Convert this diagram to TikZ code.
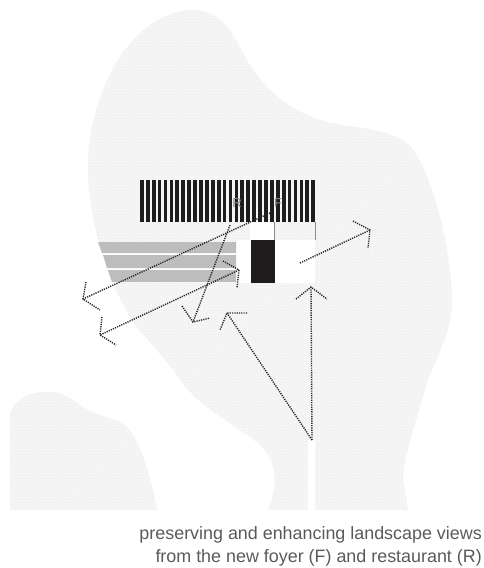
\documentclass[tikz,border=0pt]{standalone}
\usepackage{fontspec}
\setmainfont{Liberation Sans}
\usepackage{tikz}
\usetikzlibrary{patterns}
\definecolor{Site}{HTML}{F2F2F2}
\definecolor{Tiers}{HTML}{BDBDBD}
\definecolor{Ink}{HTML}{1E1C1D}
\definecolor{Caption}{HTML}{5A5A5A}

\begin{document}
\begin{tikzpicture}[
  x=1pt,y=-1pt,
  sitearea/.style={fill=Site,draw=none,postaction={pattern=crosshatch dots,pattern color=white}},
  tierbar/.style={fill=Tiers,draw=none},
  viewline/.style={draw=black!85,line width=1.4pt,dash pattern=on 1.2pt off 1.1pt},
  roomlabel/.style={font=\fontsize{13}{13}\selectfont,text=black!45,inner sep=0pt},
  captionline/.style={font=\fontsize{17.9}{20}\selectfont,text=Caption,anchor=east,inner sep=0pt}
]
\useasboundingbox (0,0) rectangle (483,568);

% site
\path[sitearea] (268,510) .. controls (276,490) and (278,470) .. (267,453)
  .. controls (250,430) and (205,415) .. (180,380)
  .. controls (160,350) and (135,330) .. (120,303)
  .. controls (100,260) and (86,200) .. (88,160)
  .. controls (90,100) and (125,15) .. (190,10)
  .. controls (225,8) and (235,40) .. (247,60)
  .. controls (265,90) and (285,105) .. (307,115)
  .. controls (340,130) and (385,125) .. (407,143)
  .. controls (430,162) and (452,250) .. (452,300)
  .. controls (452,330) and (440,350) .. (428,380)
  .. controls (420,410) and (405,450) .. (403,477)
  -- (408,510) -- cycle;
\path[sitearea] (10,510) -- (10,413) .. controls (14,400) and (30,392) .. (43,392)
  .. controls (60,390) and (72,398) .. (83,407)
  .. controls (100,418) and (118,418) .. (127,427)
  .. controls (140,440) and (152,480) .. (157,510) -- cycle;
\fill[white] (308,440) rectangle (315,511);
\fill[white] (237,240) rectangle (315,283);
\fill[white] (250,222) rectangle (274,240);
\fill[white] (90,225) -- (98,242) -- (237,242) -- (237,283) -- (112,283) -- cycle;
\fill[white] (112,283) -- (150,357) -- (90,357) -- (70,283) -- cycle;

% tiers
\fill[tierbar] (98,242) -- (236,242) -- (236,253) -- (102,253) -- cycle;
\fill[tierbar] (103,255) -- (236,255) -- (236,268) -- (107,268) -- cycle;
\fill[tierbar] (108,270) -- (236,270) -- (236,282) -- (112,282) -- cycle;

% columns
\foreach \i in {0,...,29}
  \fill[Ink] ({140+5.91*\i},180) rectangle ({143.7+5.91*\i},222);

\fill[Ink] (251,240) rectangle (275,283);
\draw[black!45,line width=0.4pt] (274,222) -- (274,240);
\draw[black!45,line width=0.4pt] (315,222) -- (315,240);

\node[roomlabel] (roomR) at (237,203) {R};
\node[roomlabel] (roomF) at (278,203) {F};

% view ends
\coordinate (foyerA) at (270,213);
\coordinate (tipA) at (83,299);
\coordinate (foyerB) at (230,225);
\coordinate (tipB) at (193,322);
\coordinate (tipC) at (239,270);
\coordinate (tipD) at (100,335);
\coordinate (tailE) at (300,263);
\coordinate (tipE) at (370,230);
\coordinate (base) at (312,440);
\coordinate (tipF) at (227,313);
\coordinate (tipG) at (311,287);

\draw[viewline] (foyerA) -- (tipA);
\draw[viewline] (86,282) -- (tipA) -- (100,310);
\draw[viewline] (foyerB) -- (tipB);
\draw[viewline] (182,306) -- (tipB) -- (210,318);
\draw[viewline] (tipC) -- (tipD);
\draw[viewline] (223,261) -- (tipC) -- (237,288);
\draw[viewline] (102,317) -- (tipD) -- (116,345);
\draw[viewline] (tailE) -- (tipE);
\draw[viewline] (353,221) -- (tipE) -- (368,248);
\draw[viewline] (base) -- (tipF);
\draw[viewline] (247,313) -- (tipF) -- (220,330);
\draw[viewline] (base) -- (tipG);
\draw[viewline] (296,299) -- (tipG) -- (327,299);

\node[captionline] (captionA) at (482,535) {preserving and enhancing landscape views};
\node[captionline] (captionB) at (482,558) {from the new foyer (F) and restaurant (R)};
\end{tikzpicture}
\end{document}
